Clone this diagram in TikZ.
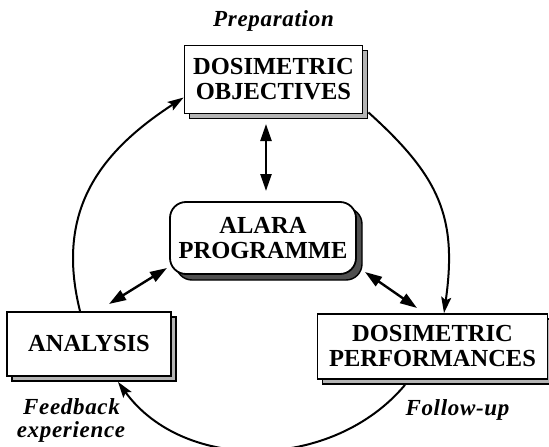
\documentclass[tikz,border=0pt]{standalone}
\usepackage{fontspec}
\setmainfont{Liberation Serif}
\newfontfamily\lblfamily[LetterSpace=3]{Liberation Serif}
\usetikzlibrary{arrows.meta,shadows}
\newcommand\myboxfont{\bfseries\fontsize{24.5}{25}\selectfont}
\newcommand\mylblfont{\lblfamily\bfseries\itshape\fontsize{23}{24}\selectfont}
\definecolor{shadowlight}{HTML}{B4B4B4}
\definecolor{shadowdark}{HTML}{505050}
\begin{document}
\begin{tikzpicture}[x=1pt,y=1pt,
  mainbox/.style={draw=black, line width=1.8pt, fill=white, inner sep=0pt,
    align=center, font=\myboxfont},
  lightshadow/.style={copy shadow={shadow xshift=5pt, shadow yshift=-5pt,
    fill=shadowlight, draw=black, line width=1.4pt}},
  darkshadow/.style={copy shadow={shadow xshift=6pt, shadow yshift=-6pt,
    fill=shadowdark, draw=black, line width=1.4pt}},
  lbl/.style={font=\mylblfont, inner sep=0pt, anchor=base},
  cycle/.style={line width=2pt, -{Stealth[length=16pt,width=10pt,inset=3pt]}},
  link/.style={line width=2.4pt, {Triangle[length=17pt,width=11pt]}-{Triangle[length=17pt,width=11pt]}}
]
\useasboundingbox (0,0) rectangle (549,-447);

% boxes
\node[mainbox, lightshadow, minimum width=178, minimum height=68] (obj) at (273.5,-79.5) {DOSIMETRIC\\OBJECTIVES};
\node[mainbox, darkshadow, rounded corners=16pt, minimum width=186, minimum height=72] (alara) at (263,-238) {ALARA\\PROGRAMME};
\node[mainbox, lightshadow, minimum width=164, minimum height=64] (ana) at (89,-344) {ANALYSIS};
\node[mainbox, lightshadow, minimum width=230, minimum height=65] (perf) at (432.5,-346.5) {DOSIMETRIC\\PERFORMANCES};

% labels
\node[lbl] (prep) at (273.5,-27) {Preparation};
\node[lbl] (fb1) at (71.5,-414) {Feedback};
\node[lbl] (fb2) at (71,-437) {experience};
\node[lbl] (fup) at (457.5,-415) {Follow-up};

% cycle arcs
\draw[cycle] ([xshift=-9pt]ana.north) to[out=104, in=213, looseness=1.1] ([yshift=-18pt]obj.west);
\draw[cycle] ([xshift=5pt,yshift=2pt]obj.south east) to[out=-42, in=82, looseness=1.15] ([xshift=11.5pt]perf.north);
\draw[cycle] ([xshift=-27.5pt,yshift=-5pt]perf.south) to[out=-130, in=-54] ([xshift=29pt,yshift=-5pt]ana.south);

% links to the central programme
\coordinate (v1) at (266,-124);
\coordinate (v2) at (266,-191);
\coordinate (l1) at (167,-268);
\coordinate (l2) at (109,-304);
\coordinate (r1) at (365,-272);
\coordinate (r2) at (417,-308);
\draw[link] (v1) -- (v2);
\draw[link] (l1) -- (l2);
\draw[link] (r1) -- (r2);
\end{tikzpicture}
\end{document}
